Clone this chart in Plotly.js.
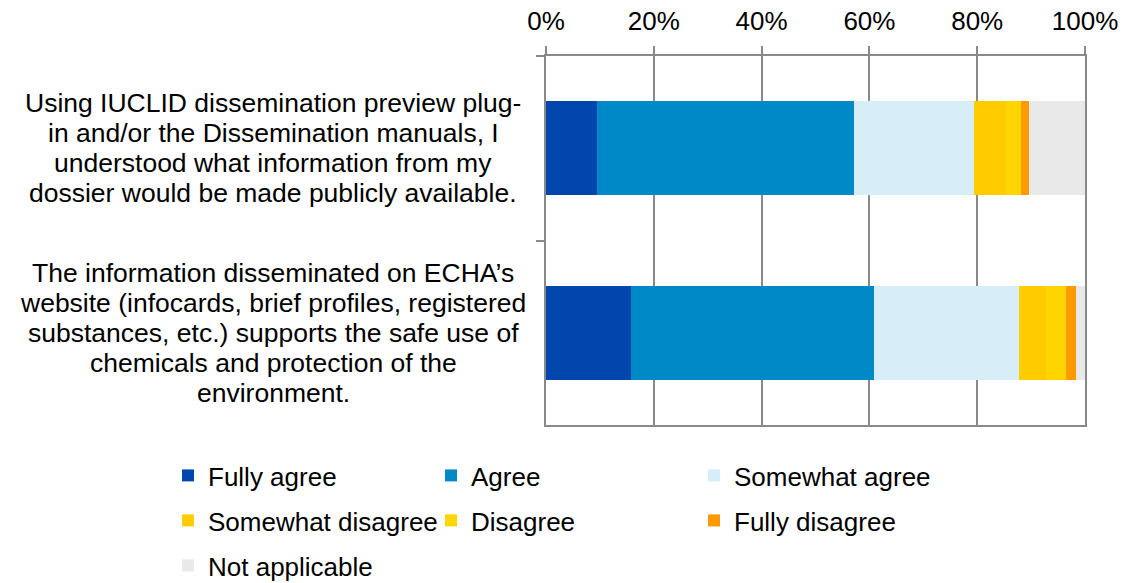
<!DOCTYPE html>
<html>
<head>
<meta charset="utf-8">
<script src="https://cdn.plot.ly/plotly-3.0.1.min.js"></script>
<style>html,body{margin:0;padding:0;background:#fff;}#chart{width:1131px;height:583px;}</style>
</head>
<body>
<div id="chart"></div>
<script>
const categories = [
  "Using IUCLID dissemination preview plug-\nin and/or the Dissemination manuals, I\nunderstood what information from my\ndossier would be made publicly available.",
  "The information disseminated on ECHA’s\nwebsite (infocards, brief profiles, registered\nsubstances, etc.) supports the safe use of\nchemicals and protection of the\nenvironment."
];
const seriesNames = ["Fully agree", "Agree", "Somewhat agree", "Somewhat disagree", "Disagree", "Fully disagree", "Not applicable"];
const fullyAgree       = [9.5, 15.7];
const agree            = [47.7, 45.1];
const somewhatAgree    = [22.2, 26.9];
const somewhatDisagree = [5.9, 5.0];
const disagree         = [2.9, 3.7];
const fullyDisagree    = [1.4, 1.9];
const notApplicable    = [10.4, 1.7];
const xTickValues = [0, 20, 40, 60, 80, 100];

const seriesValues = [fullyAgree, agree, somewhatAgree, somewhatDisagree, disagree, fullyDisagree, notApplicable];
const colors = ["#0046AD", "#0089C7", "#D7EEF9", "#FFCC00", "#FFD500", "#FF9900", "#E9E9E9"];
// legend row (3 entries per row, as in the reference)
const legendIds = ["legend", "legend", "legend", "legend2", "legend2", "legend2", "legend3"];

const yKeys = categories.map(c => c.replace(/\n/g, " "));

const traces = seriesNames.map((name, i) => ({
  type: "bar",
  orientation: "h",
  name: name,
  x: seriesValues[i],
  y: yKeys,
  width: 0.51,
  legend: legendIds[i],
  marker: {color: colors[i], line: {width: 0}},
  hoverinfo: "x+name"
}));

const lineH = 30;
const annotations = [];
categories.forEach((cat, ci) => {
  const lines = cat.split("\n");
  const n = lines.length;
  lines.forEach((ln, li) => {
    annotations.push({
      xref: "paper", yref: "y",
      x: (273 - 546) / 539, y: yKeys[ci],
      xanchor: "center", yanchor: "middle",
      yshift: ((n - 1) / 2 - li) * lineH,
      text: ln, showarrow: false,
      font: {family: "Liberation Sans, Arial, sans-serif", size: 26.5, color: "#000"}
    });
  });
});

const gray = "#898989";
const legendFont = {family: "Liberation Sans, Arial, sans-serif", size: 26, color: "#000"};
function legendAt(topPx) {
  return {
    orientation: "h", traceorder: "normal",
    xref: "paper", yref: "paper",
    x: (168 - 546) / 539, y: (425 - topPx) / 369, xanchor: "left", yanchor: "top",
    entrywidth: 218, entrywidthmode: "pixels",
    font: legendFont, bgcolor: "rgba(0,0,0,0)", borderwidth: 0
  };
}

const layout = {
  width: 1131, height: 583,
  margin: {l: 546, r: 46, t: 56, b: 158, pad: 0, autoexpand: false},
  paper_bgcolor: "#fff", plot_bgcolor: "#fff",
  barmode: "stack",
  font: {family: "Liberation Sans, Arial, sans-serif", size: 26, color: "#000"},
  xaxis: {
    side: "top", range: [0, 100], tickvals: xTickValues, ticktext: xTickValues.map(v => v + "%"),
    showgrid: true, gridcolor: gray, gridwidth: 2,
    showline: true, linecolor: gray, linewidth: 2, mirror: true,
    ticks: "outside", ticklen: 8, tickwidth: 2, tickcolor: gray,
    ticklabelstandoff: 6,
    zeroline: false, fixedrange: true
  },
  yaxis: {
    type: "category", autorange: "reversed",
    tickson: "boundaries", ticks: "outside", ticklen: 8, tickwidth: 2, tickcolor: gray,
    showticklabels: false, showgrid: false,
    showline: true, linecolor: gray, linewidth: 2, mirror: true,
    zeroline: false, fixedrange: true
  },
  legend: legendAt(452),
  legend2: legendAt(497),
  legend3: legendAt(542),
  annotations: annotations,
  showlegend: true
};

Plotly.newPlot("chart", traces, layout, {displayModeBar: false, staticPlot: true});
</script>
</body>
</html>
